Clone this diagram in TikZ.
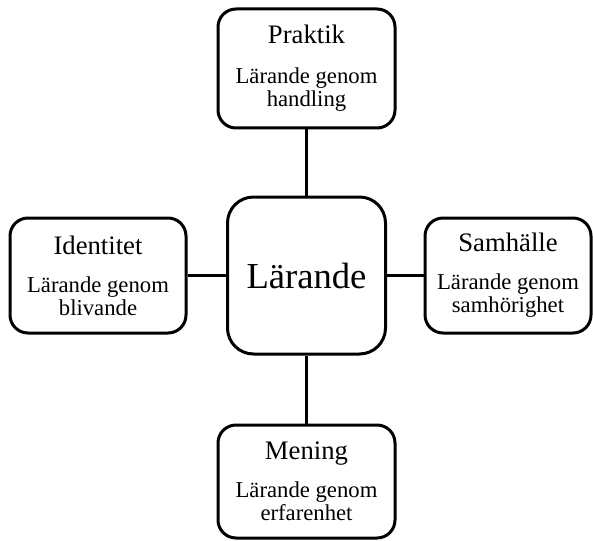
\documentclass[tikz,border=0pt]{standalone}
\usepackage{fontspec}
\setmainfont{Liberation Serif}
\newcommand{\boxtitle}{\fontsize{26.7}{28}\selectfont}
\begin{document}
\begin{tikzpicture}[x=1pt,y=-1pt,
    box/.style={draw, line width=3pt, rounded corners=18pt, fill=white,
      align=center, inner sep=0pt, font=\fontsize{22.7}{23}\selectfont},
    link/.style={line width=3pt}]

  \useasboundingbox (0,0) rectangle (593,540);

  \node[box, minimum width=158pt, minimum height=157pt, rounded corners=26pt,
    font=\fontsize{36.6}{40}\selectfont] (larande) at (306.5,275.5) {Lärande};

  \node[box, minimum width=177pt, minimum height=119pt] (praktik) at (306.5,68.5)
    {{\boxtitle Praktik}\\[17pt]Lärande genom\\handling};
  \node[box, minimum width=176pt, minimum height=115pt] (identitet) at (98,275.5)
    {{\boxtitle Identitet}\\[15pt]Lärande genom\\blivande};
  \node[box, minimum width=166pt, minimum height=115pt] (samhalle) at (508,275.5)
    {{\boxtitle Samhälle}\\[15pt]Lärande genom\\samhörighet};
  \node[box, minimum width=177pt, minimum height=113pt] (mening) at (306.5,481.5)
    {{\boxtitle Mening}\\[15pt]Lärande genom\\erfarenhet};

  \draw[link] (larande) -- (praktik);
  \draw[link] (larande) -- (identitet);
  \draw[link] (larande) -- (samhalle);
  \draw[link] (larande) -- (mening);

\end{tikzpicture}
\end{document}
